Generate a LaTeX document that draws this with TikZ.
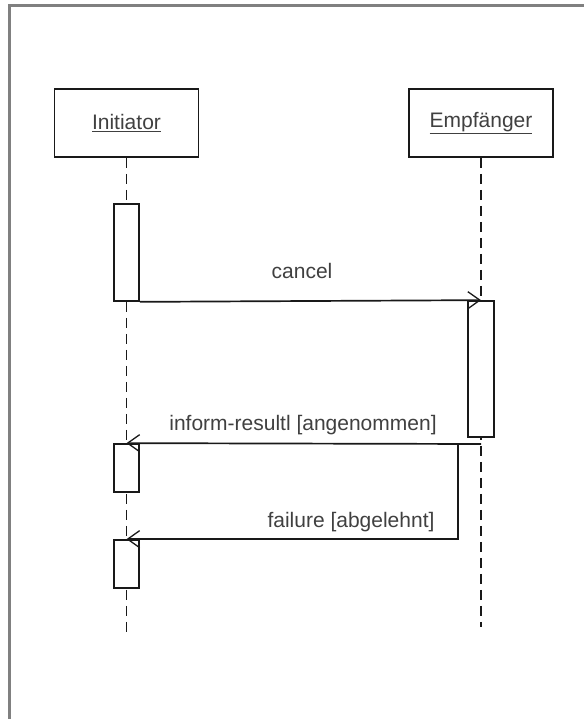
\documentclass[tikz,border=0pt]{standalone}
\usepackage{fontspec}
\setmainfont{Liberation Sans}
\usepackage{xcolor}
\usetikzlibrary{arrows.meta,positioning}

\begin{document}
\begin{tikzpicture}[x=1pt,y=-1pt,font=\fontsize{21}{25}\selectfont,
	party/.style={draw=black!90,line width=1.9pt,minimum width=144pt,minimum height=68pt,inner sep=0pt,text=black!75},
	act/.style={draw=black!90,fill=white,line width=1.7pt,minimum width=25pt,inner sep=0pt},
	lifeline/.style={draw=black!90,line width=1.7pt,dash pattern=on 10pt off 6pt},
	msg/.style={draw=black!90,line width=1.7pt,-{Straight Barb[length=12pt,width=17pt,line width=1.3pt]}},
	lbl/.style={anchor=base,text=black!75,inner sep=0pt}]
	\useasboundingbox (0,0) rectangle (584,719);
	\draw[black!50,line width=3pt] (9.5,719) -- (9.5,5.5) -- (584,5.5);
	% parties
	\node[party] (init) at (126.5,123) {\underline{Initiator}};
	\node[party] (empf) at (481,123) {\underline{Empfänger}};
	\coordinate (iend) at (126.5,633);
	\coordinate (eend) at (481,627);
	\draw[lifeline] (init) -- (iend);
	\draw[lifeline] (empf) -- (eend);
	% activations
	\node[act,minimum height=97pt] (a1) at (126.5,252.5) {};
	\node[act,minimum width=26pt,minimum height=136pt] (ea) at (481,369) {};
	\node[act,minimum height=48pt] (a2) at (126.5,468) {};
	\node[act,minimum height=48pt] (a3) at (126.5,564) {};
	% messages
	\coordinate (r1) at (481,444);
	\coordinate (k1) at (458,444);
	\draw[msg] (a1.south east) -- (ea.north);
	\draw[msg] (r1) -- (a2.north);
	\draw[msg] (k1) |- (a3.north);
	\node[lbl] (lcancel) at (302,278) {cancel};
	\node[lbl] (linform) at (303,430) {inform-resultl [angenommen]};
	\node[lbl] (lfail) at (351,527) {failure [abgelehnt]};
\end{tikzpicture}
\end{document}
